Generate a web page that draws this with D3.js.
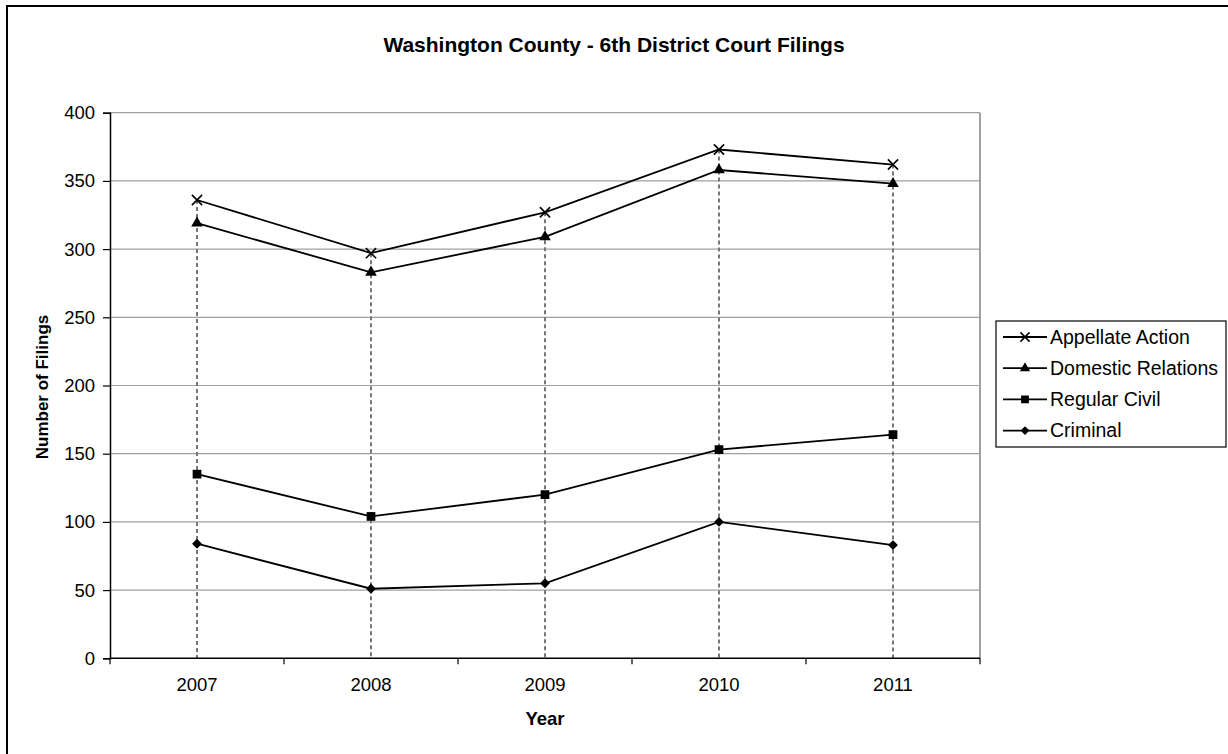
<!DOCTYPE html>
<html>
<head>
<meta charset="utf-8">
<script src="https://cdn.jsdelivr.net/npm/d3@7"></script>
<style>
  body { margin: 0; background: #fff; }
  text { font-family: "Liberation Sans", Arial, sans-serif; fill: #000; }
</style>
</head>
<body>
<div id="chart"></div>
<script>
var years = ["2007", "2008", "2009", "2010", "2011"];
var appellateAction = [336, 297, 327, 373, 362];
var domesticRelations = [319, 283, 309, 358, 348];
var regularCivil = [135, 104, 120, 153, 164];
var criminal = [84, 51, 55, 100, 83];
var yTicks = [0, 50, 100, 150, 200, 250, 300, 350, 400];

var series = [
    { name: "Appellate Action", values: appellateAction, symbol: d3.symbolTimes, size: 70, stroke: true },
    { name: "Domestic Relations", values: domesticRelations, symbol: d3.symbolTriangle, size: 58 },
    { name: "Regular Civil", values: regularCivil, symbol: d3.symbolSquare, size: 76 },
    { name: "Criminal", values: criminal, symbol: d3.symbolDiamond2, size: 62 }
];

var width = 1228, height = 754;
var svg = d3.select("#chart").append("svg")
    .attr("width", width)
    .attr("height", height);

// outer chart frame (right/bottom edges run off the picture)
svg.append("rect")
    .attr("x", 7).attr("y", 6)
    .attr("width", 1240).attr("height", 770)
    .attr("fill", "#fff")
    .attr("stroke", "#000")
    .attr("stroke-width", 2);

var plot = { left: 110, right: 980, top: 112.7, bottom: 658.3 };

var x = d3.scaleBand()
    .domain(years)
    .range([plot.left, plot.right]);

var y = d3.scaleLinear()
    .domain([0, 400])
    .range([plot.bottom, plot.top]);

// gridlines
svg.append("g")
    .selectAll("line")
    .data(yTicks.filter(function(d) { return d > 0; }))
    .enter().append("line")
    .attr("x1", plot.left).attr("x2", plot.right)
    .attr("y1", function(d) { return y(d); })
    .attr("y2", function(d) { return y(d); })
    .attr("stroke", "#a0a0a0")
    .attr("stroke-width", 1.2);

// plot area right border
svg.append("line")
    .attr("x1", plot.right).attr("x2", plot.right)
    .attr("y1", plot.top).attr("y2", plot.bottom)
    .attr("stroke", "#a0a0a0")
    .attr("stroke-width", 2);

// drop lines from highest point down to the axis
svg.append("g")
    .selectAll("line")
    .data(years)
    .enter().append("line")
    .attr("x1", function(d) { return x(d) + x.bandwidth() / 2; })
    .attr("x2", function(d) { return x(d) + x.bandwidth() / 2; })
    .attr("y1", function(d, i) {
        return y(d3.max(series, function(s) { return s.values[i]; }));
    })
    .attr("y2", plot.bottom)
    .attr("stroke", "#777")
    .attr("stroke-width", 2)
    .attr("stroke-dasharray", "4,3");

// y axis
var yAxis = d3.axisLeft(y)
    .tickValues(yTicks)
    .tickSize(7)
    .tickPadding(8);

var yG = svg.append("g")
    .attr("class", "axis y-axis")
    .attr("transform", "translate(" + plot.left + ",0)")
    .call(yAxis);
yG.select(".domain").attr("stroke", "#000").attr("stroke-width", 1.5);
yG.selectAll(".tick line").attr("stroke", "#000").attr("stroke-width", 1.2);
yG.selectAll("text")
    .style("font-family", "'Liberation Sans', Arial, sans-serif")
    .style("font-size", "18.5px")
    .attr("fill", "#000");

// x axis: labels at the centre, ticks between categories
var xAxis = d3.axisBottom(x)
    .tickSize(0)
    .tickPadding(20);

var xG = svg.append("g")
    .attr("class", "axis x-axis")
    .attr("transform", "translate(0," + plot.bottom + ")")
    .call(xAxis);
xG.select(".domain").remove();
xG.selectAll("text")
    .style("font-family", "'Liberation Sans', Arial, sans-serif")
    .style("font-size", "18.5px")
    .attr("fill", "#000");

svg.append("line")
    .attr("x1", plot.left).attr("x2", plot.right)
    .attr("y1", plot.bottom).attr("y2", plot.bottom)
    .attr("stroke", "#000")
    .attr("stroke-width", 1.5);

var boundaries = years.map(function(d) { return x(d); }).concat([plot.right]);
svg.append("g")
    .selectAll("line")
    .data(boundaries)
    .enter().append("line")
    .attr("x1", function(d) { return d; })
    .attr("x2", function(d) { return d; })
    .attr("y1", plot.bottom)
    .attr("y2", plot.bottom + 6)
    .attr("stroke", "#000")
    .attr("stroke-width", 1.2);

// lines and markers
var line = d3.line()
    .x(function(d, i) { return x(years[i]) + x.bandwidth() / 2; })
    .y(function(d) { return y(d); });

series.forEach(function(s) {
    svg.append("path")
        .attr("d", line(s.values))
        .attr("fill", "none")
        .attr("stroke", "#000")
        .attr("stroke-width", 1.8);

    svg.append("g")
        .selectAll("path")
        .data(s.values)
        .enter().append("path")
        .attr("d", d3.symbol().type(s.symbol).size(s.size))
        .attr("transform", function(d, i) {
            return "translate(" + (x(years[i]) + x.bandwidth() / 2) + "," + y(d) + ")";
        })
        .attr("fill", s.stroke ? "none" : "#000")
        .attr("stroke", "#000")
        .attr("stroke-width", s.stroke ? 1.6 : 0);
});

// title
svg.append("text")
    .attr("x", 614)
    .attr("y", 52)
    .attr("text-anchor", "middle")
    .style("font-size", "21px")
    .style("font-weight", "bold")
    .text("Washington County - 6th District Court Filings");

// axis titles
svg.append("text")
    .attr("x", 545)
    .attr("y", 725)
    .attr("text-anchor", "middle")
    .style("font-size", "18.5px")
    .style("font-weight", "bold")
    .text("Year");

svg.append("text")
    .attr("transform", "translate(48,387) rotate(-90)")
    .attr("text-anchor", "middle")
    .style("font-size", "17px")
    .style("font-weight", "bold")
    .text("Number of Filings");

// legend
var legend = svg.append("g")
    .attr("transform", "translate(996,321)");

legend.append("rect")
    .attr("width", 230)
    .attr("height", 126)
    .attr("fill", "#fff")
    .attr("stroke", "#000")
    .attr("stroke-width", 1.2);

var item = legend.selectAll("g.item")
    .data(series)
    .enter().append("g")
    .attr("class", "item")
    .attr("transform", function(d, i) { return "translate(0," + (16 + i * 31.2) + ")"; });

item.append("line")
    .attr("x1", 7).attr("x2", 51)
    .attr("stroke", "#000")
    .attr("stroke-width", 1.8);

item.append("path")
    .attr("d", function(d) { return d3.symbol().type(d.symbol).size(d.size * 0.8)(); })
    .attr("transform", "translate(29,0)")
    .attr("fill", function(d) { return d.stroke ? "none" : "#000"; })
    .attr("stroke", "#000")
    .attr("stroke-width", function(d) { return d.stroke ? 1.6 : 0; });

item.append("text")
    .attr("x", 54)
    .attr("dy", "0.35em")
    .style("font-size", "19.5px")
    .text(function(d) { return d.name; });
</script>
</body>
</html>
